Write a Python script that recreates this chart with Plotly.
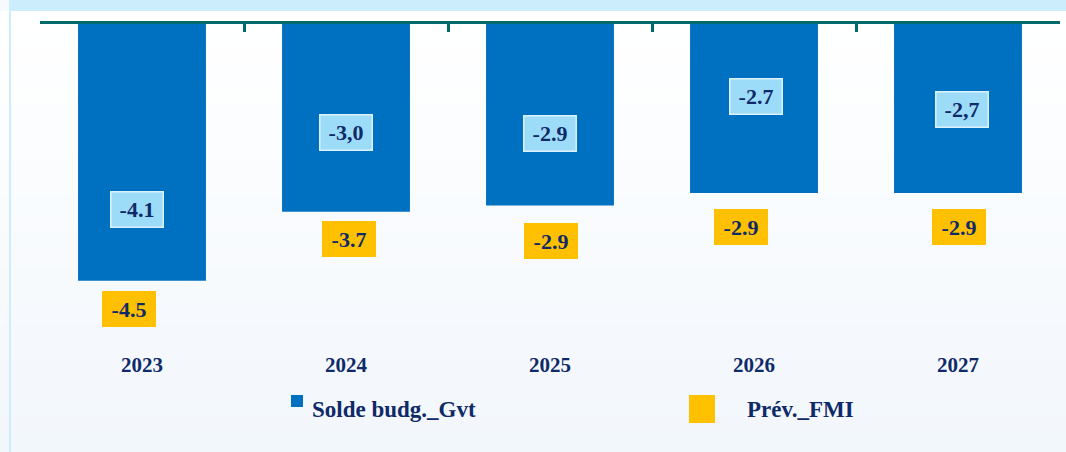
import plotly.graph_objects as go

# ── Data ────────────────────────────────────────────────────────────────────
years = ["2023", "2024", "2025", "2026", "2027"]
solde_budg = [-4.1, -3.0, -2.9, -2.7, -2.7]
solde_labels = ["-4.1", "-3,0", "-2.9", "-2.7", "-2,7"]
prev_fmi = [-4.5, -3.7, -2.9, -2.9, -2.9]
fmi_labels = ["-4.5", "-3.7", "-2.9", "-2.9", "-2.9"]

# ── Style ───────────────────────────────────────────────────────────────────
W, H = 1066, 452
ML, MR, MT, MB = 40, 6, 24, 107
PW, PH = W - ML - MR, H - MT - MB
BLUE = "#0070C0"
LIGHT = "#9DDCF9"
GOLD = "#FFC000"
NAVY = "#0F2A68"
CYAN = "#CCEEFC"
TEAL = "#006B6B"
FONT = "Liberation Serif"

# hand-placed label offsets (pixels) as in the original
inner_dy = [71, 79, 72, 97, 84]
inner_dx = [-5, 0, 0, 2, 4]
fmi_dy = [28, 27, 35, 34, 34]
fmi_dx = [-13, 3, 1, -13, 1]


def px(x):
    return (x - ML) / PW


def py(y):
    return (H - MB - y) / PH


xs = list(range(len(years)))

fig = go.Figure()
fig.add_trace(
    go.Bar(
        x=xs,
        y=solde_budg,
        width=0.627,
        marker=dict(color=BLUE, line=dict(width=0)),
        name="Solde budg._Gvt",
        hoverinfo="skip",
    )
)

shapes = []
# soft vertical gradient background
n = 24
for i in range(n):
    t = i / (n - 1)
    r = round(255 - (255 - 0xF2) * t)
    g = round(255 - (255 - 0xF7) * t)
    b = round(255 - (255 - 0xFC) * t)
    y0 = 11 + (H - 11) * i / n
    y1 = 11 + (H - 11) * (i + 1) / n + 1
    shapes.append(dict(type="rect", xref="paper", yref="paper", layer="below",
                       x0=px(0), x1=px(W), y0=py(y1), y1=py(y0),
                       fillcolor=f"rgb({r},{g},{b})", line=dict(width=0)))
# top band + left strip
shapes.append(dict(type="rect", xref="paper", yref="paper", layer="below",
                   x0=px(9), x1=px(W), y0=py(11), y1=py(0),
                   fillcolor=CYAN, line=dict(width=0)))
shapes.append(dict(type="rect", xref="paper", yref="paper", layer="below",
                   x0=px(9), x1=px(11), y0=py(H), y1=py(0),
                   fillcolor=CYAN, line=dict(width=0)))
# legend swatches
shapes.append(dict(type="rect", xref="paper", yref="paper",
                   x0=px(291), x1=px(303), y0=py(407), y1=py(395),
                   fillcolor=BLUE, line=dict(width=0)))
shapes.append(dict(type="rect", xref="paper", yref="paper",
                   x0=px(689), x1=px(715), y0=py(423), y1=py(395),
                   fillcolor=GOLD, line=dict(width=0)))

annotations = []
for i, yr in enumerate(years):
    annotations.append(dict(
        x=i, y=py(365), xref="x", yref="paper", text=f"<b>{yr}</b>",
        showarrow=False, font=dict(family=FONT, size=21, color=NAVY),
        xanchor="center", yanchor="middle"))
    annotations.append(dict(
        x=i, y=solde_budg[i], xref="x", yref="y", text=f"<b>{solde_labels[i]}</b>",
        showarrow=False, font=dict(family=FONT, size=22, color=NAVY),
        bgcolor=LIGHT, bordercolor="#DDF1FB", borderwidth=1.5, borderpad=0,
        width=51, height=34, align="center", valign="middle",
        xanchor="center", yanchor="middle",
        xshift=inner_dx[i], yshift=inner_dy[i]))
    annotations.append(dict(
        x=i, y=solde_budg[i], xref="x", yref="y", text=f"<b>{fmi_labels[i]}</b>",
        showarrow=False, font=dict(family=FONT, size=22, color=NAVY),
        bgcolor=GOLD, borderwidth=0, borderpad=0,
        width=54, height=36, align="center", valign="middle",
        xanchor="center", yanchor="middle",
        xshift=fmi_dx[i], yshift=-fmi_dy[i]))

annotations.append(dict(
    x=px(310), y=py(409), xref="paper", yref="paper", text="<b>Solde budg._Gvt</b>",
    showarrow=False, font=dict(family=FONT, size=23, color=NAVY),
    xanchor="left", yanchor="middle"))
annotations.append(dict(
    x=px(745), y=py(409), xref="paper", yref="paper", text="<b>Prév._FMI</b>",
    showarrow=False, font=dict(family=FONT, size=23, color=NAVY),
    xanchor="left", yanchor="middle"))

fig.update_layout(
    width=W,
    height=H,
    margin=dict(l=ML, r=MR, t=MT, b=MB),
    paper_bgcolor="#F7FAFD",
    plot_bgcolor="rgba(0,0,0,0)",
    showlegend=False,
    shapes=shapes,
    annotations=annotations,
    xaxis=dict(
        range=[-0.5, len(years) - 0.5],
        side="top",
        showline=True,
        linecolor=TEAL,
        linewidth=2.5,
        tickmode="array",
        tickvals=[i - 0.5 for i in range(len(years) + 1)],
        ticks="inside",
        ticklen=8,
        tickwidth=2.5,
        tickcolor=TEAL,
        showticklabels=False,
        showgrid=False,
        zeroline=False,
        fixedrange=True,
    ),
    yaxis=dict(
        range=[-PH / 62.6, 0],
        visible=False,
        fixedrange=True,
    ),
)

# drop the browser's default 8px body margin so the figure sits at (0, 0)
fig.write_html(
    "out.html",
    config={"displayModeBar": False},
    post_script="document.body.style.margin='0';document.body.style.overflow='hidden';",
)
